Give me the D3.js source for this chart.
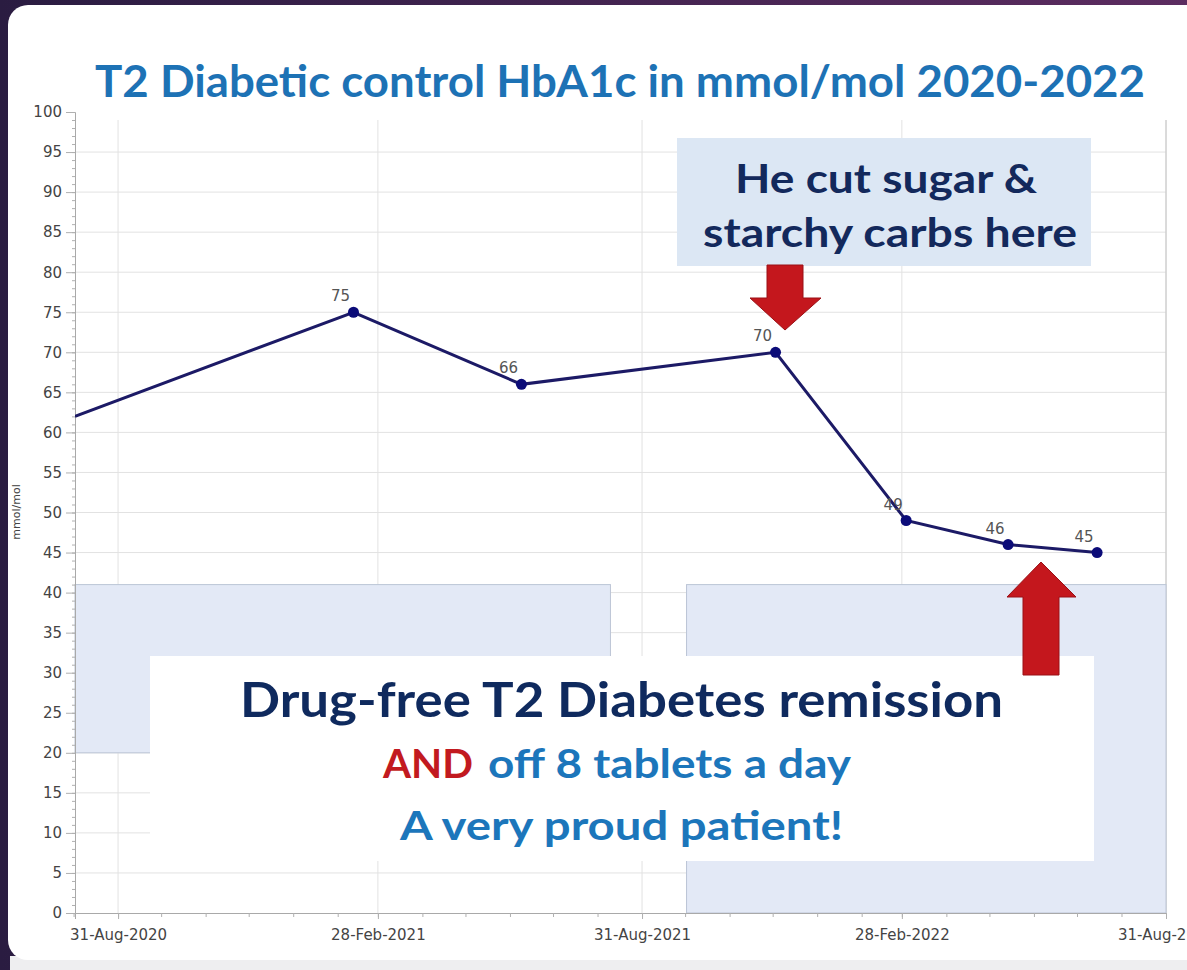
<!DOCTYPE html>
<html>
<head>
<meta charset="utf-8">
<script src="https://cdn.jsdelivr.net/npm/d3@7"></script>
<style>
  html, body { margin: 0; padding: 0; background: #2b1c42; }
  svg { display: block; }
</style>
</head>
<body>
<div id="chart"></div>
<script>
// data
const dates = ["2020-08-01", "2021-02-11", "2021-06-08", "2021-12-02", "2022-03-03", "2022-05-13", "2022-07-14"];
const hba1c = [62, 75, 66, 70, 49, 46, 45];
const pointLabels = ["", "75", "66", "70", "49", "46", "45"];

const xTickDates = ["2020-08-31", "2021-02-28", "2021-08-31", "2022-02-28", "2022-08-31"];
const xTickLabels = ["31-Aug-2020", "28-Feb-2021", "31-Aug-2021", "28-Feb-2022", "31-Aug-2022"];
const yTicks = d3.range(0, 101, 5);

const titleText = "T2 Diabetic control HbA1c in mmol/mol 2020-2022";
const yAxisTitle = "mmol/mol";

// shaded blocks, in data units [from, to, low, high]
const shadeBlocks = [
    ["2020-08-01", "2021-08-09", 20, 41],
    ["2021-10-01", "2022-08-31", 0, 41]
];

const parse = d3.timeParse("%Y-%m-%d");

// set the dimensions of the page
let width = 1187;
let height = 970;
let plot = { left: 75, right: 1166, top: 112, bottom: 913 };

let svg = d3.select("#chart")
    .append("svg")
    .attr("width", width)
    .attr("height", height);

// purple frame + white card
let defs = svg.append("defs");
let grad = defs.append("linearGradient").attr("id", "frame").attr("x1", "0").attr("x2", "1");
grad.append("stop").attr("offset", "0").attr("stop-color", "#2a1c41");
grad.append("stop").attr("offset", "1").attr("stop-color", "#5c2c60");
svg.append("rect").attr("width", width).attr("height", height).attr("fill", "url(#frame)");
svg.append("rect").attr("x", 10).attr("y", 956).attr("width", width).attr("height", 14).attr("fill", "#eeeef0");
svg.append("rect")
    .attr("x", 8).attr("y", 5)
    .attr("width", width + 20).attr("height", 955)
    .attr("rx", 20)
    .attr("fill", "white");

// scales
let x = d3.scaleTime()
    .domain([parse("2020-08-01"), parse("2022-08-31")])
    .range([plot.left, plot.right]);

let y = d3.scaleLinear()
    .domain([0, 100])
    .range([plot.bottom, plot.top]);

defs.append("clipPath").attr("id", "plotclip")
    .append("rect")
    .attr("x", plot.left).attr("y", plot.top)
    .attr("width", plot.right - plot.left).attr("height", plot.bottom - plot.top);

// gridlines
svg.append("g")
    .selectAll("line")
    .data(yTicks.filter(d => d > 0 && d < 100))
    .enter()
    .append("line")
    .attr("x1", plot.left).attr("x2", plot.right)
    .attr("y1", d => y(d)).attr("y2", d => y(d))
    .attr("stroke", "#e2e2e2");

svg.append("g")
    .selectAll("line")
    .data(xTickDates)
    .enter()
    .append("line")
    .attr("x1", d => x(parse(d))).attr("x2", d => x(parse(d)))
    .attr("y1", y(99)).attr("y2", plot.bottom)
    .attr("stroke", "#e2e2e2");

// right border of the plot
svg.append("line")
    .attr("x1", plot.right).attr("x2", plot.right)
    .attr("y1", y(99)).attr("y2", plot.bottom)
    .attr("stroke", "#c4c4c4");

// shaded blocks
svg.append("g")
    .selectAll("rect")
    .data(shadeBlocks)
    .enter()
    .append("rect")
    .attr("x", d => x(parse(d[0])))
    .attr("y", d => y(d[3]))
    .attr("width", d => x(parse(d[1])) - x(parse(d[0])))
    .attr("height", d => y(d[2]) - y(d[3]))
    .attr("fill", "#e3e9f6")
    .attr("stroke", "#bcc5d6")
    .attr("stroke-width", 1);

// y axis
let yAxis = d3.axisLeft(y).tickValues(yTicks).tickSize(9).tickPadding(4);
svg.append("g")
    .attr("transform", "translate(" + plot.left + ",0)")
    .call(yAxis);
// minor ticks every unit
svg.append("g")
    .attr("transform", "translate(" + plot.left + ",0)")
    .call(d3.axisLeft(y).ticks(100).tickSize(3).tickFormat(""))
    .call(g => g.select(".domain").remove());

// x axis
let xAxis = d3.axisBottom(x)
    .tickValues(xTickDates.map(parse))
    .tickFormat((d, i) => xTickLabels[i])
    .tickSize(6).tickPadding(10);
svg.append("g")
    .attr("transform", "translate(0," + plot.bottom + ")")
    .call(xAxis);
// monthly minor ticks at month ends
svg.append("g")
    .attr("transform", "translate(0," + plot.bottom + ")")
    .call(d3.axisBottom(x).ticks(d3.timeMonth.every(1)).tickSize(4).tickFormat(""))
    .call(g => g.select(".domain").remove())
    .selectAll("line")
    .attr("transform", d => "translate(" + (x(d3.timeDay.offset(d, -1)) - x(d)) + ",0)");

svg.selectAll(".domain").attr("stroke", "#a9a9a9");
svg.selectAll(".tick line").attr("stroke", "#b0b0b0");
svg.selectAll(".tick text")
    .style("font-family", "DejaVu Sans")
    .style("font-size", "15px")
    .attr("fill", "#444");

// y axis title
svg.append("text")
    .text(yAxisTitle)
    .attr("transform", "translate(20,512) rotate(-90)")
    .style("text-anchor", "middle")
    .style("font-family", "DejaVu Sans")
    .style("font-size", "11px")
    .attr("fill", "#444");

// the line
let points = dates.map((d, i) => ({ date: parse(d), value: hba1c[i], label: pointLabels[i] }));

let line = d3.line()
    .x(d => x(d.date))
    .y(d => y(d.value));

svg.append("path")
    .datum(points)
    .attr("clip-path", "url(#plotclip)")
    .attr("d", line)
    .attr("fill", "none")
    .attr("stroke", "#1c1a66")
    .attr("stroke-width", 3);

svg.selectAll("circle.pt")
    .data(points.filter(d => d.label !== ""))
    .enter()
    .append("circle")
    .attr("class", "pt")
    .attr("cx", d => x(d.date))
    .attr("cy", d => y(d.value))
    .attr("r", 5.5)
    .attr("fill", "#0b0b78");

svg.selectAll("text.lbl")
    .data(points.filter(d => d.label !== ""))
    .enter()
    .append("text")
    .attr("class", "lbl")
    .text(d => d.label)
    .attr("x", d => x(d.date) - 13)
    .attr("y", d => y(d.value) - 11)
    .style("text-anchor", "middle")
    .style("font-family", "DejaVu Sans")
    .style("font-size", "15px")
    .attr("fill", "#555");

// title
svg.append("text")
    .text(titleText)
    .attr("x", 95).attr("y", 97)
    .attr("textLength", 1050)
    .attr("lengthAdjust", "spacingAndGlyphs")
    .style("font-family", "Lato")
    .style("font-weight", 700)
    .style("font-size", "44px")
    .attr("fill", "#1d72b5");

// upper note box
svg.append("rect")
    .attr("x", 677).attr("y", 138)
    .attr("width", 414).attr("height", 128)
    .attr("fill", "#dce7f4");

let noteLines = [["He cut sugar &", 735, 193, 302], ["starchy carbs here", 703, 247, 374]];
svg.selectAll("text.note")
    .data(noteLines)
    .enter()
    .append("text")
    .attr("class", "note")
    .text(d => d[0])
    .attr("x", d => d[1]).attr("y", d => d[2])
    .attr("textLength", d => d[3])
    .attr("lengthAdjust", "spacingAndGlyphs")
    .style("font-family", "Lato")
    .style("font-weight", 700)
    .style("font-size", "41px")
    .attr("fill", "#13295c");

// white message box
svg.append("rect")
    .attr("x", 150).attr("y", 656)
    .attr("width", 944).attr("height", 205)
    .attr("fill", "white");

svg.append("text")
    .text("Drug-free T2 Diabetes remission")
    .attr("x", 240).attr("y", 717)
    .attr("textLength", 763)
    .attr("lengthAdjust", "spacingAndGlyphs")
    .style("font-family", "Lato")
    .style("font-weight", 700)
    .style("font-size", "47px")
    .attr("fill", "#0f2a5e");

let msgParts = [
    ["AND", 383, 778, 90, "#c21a20"],
    ["off 8 tablets a day", 488, 778, 363, "#1c76bb"],
    ["A very proud patient!", 400, 840, 443, "#1c76bb"]
];
svg.selectAll("text.msg")
    .data(msgParts)
    .enter()
    .append("text")
    .attr("class", "msg")
    .text(d => d[0])
    .attr("x", d => d[1]).attr("y", d => d[2])
    .attr("textLength", d => d[3])
    .attr("lengthAdjust", "spacingAndGlyphs")
    .style("font-family", "Lato")
    .style("font-weight", 700)
    .style("font-size", "41px")
    .attr("fill", d => d[4]);

// red arrows, on top of the boxes
let arrowDown = "M767,265 L803,265 L803,298 L821,298 L785,330 L750,298 L767,298 Z";
let arrowUp = "M1023,675 L1059,675 L1059,597 L1076,597 L1041,562 L1007,597 L1023,597 Z";
svg.selectAll("path.arrow")
    .data([arrowDown, arrowUp])
    .enter()
    .append("path")
    .attr("class", "arrow")
    .attr("d", d => d)
    .attr("fill", "#c4171d")
    .attr("stroke", "#9a1116")
    .attr("stroke-width", 1);
</script>
</body>
</html>
